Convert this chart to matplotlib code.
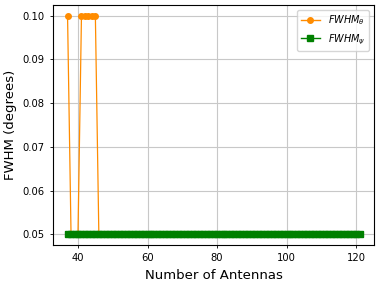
import matplotlib
matplotlib.use("Agg")
import matplotlib.pyplot as plt
import numpy as np

antennas = list(range(37, 122))
fwhm_theta = [0.1 if n in (37, 41, 42, 43, 44, 45) else 0.05 for n in antennas]
fwhm_psi = [0.05 for n in antennas]

fig, ax = plt.subplots(figsize=(3.81, 2.86), dpi=100)
ax.plot(antennas, fwhm_theta, marker='o', color='darkorange', markersize=4, linewidth=0.9, label=r'$FWHM_\theta$')
ax.plot(antennas, fwhm_psi, marker='s', color='green', markersize=4, linewidth=5, label=r'$FWHM_\psi$')
ax.set_xlabel('Number of Antennas', fontsize=9.5)
ax.set_ylabel('FWHM (degrees)', fontsize=9.5)
ax.tick_params(labelsize=7.2, width=0.6, length=2.5)
for s in ax.spines.values():
    s.set_linewidth(0.8)
ax.grid(True, linewidth=0.8, color='#c8c8c8')
leg = ax.legend(fontsize=7, loc='upper right', handlelength=2, markerscale=1)
for h in leg.legend_handles:
    h.set_linewidth(1)
fig.subplots_adjust(left=0.139, right=0.982, bottom=0.143, top=0.983)
fig.savefig('out.png', dpi=100)
